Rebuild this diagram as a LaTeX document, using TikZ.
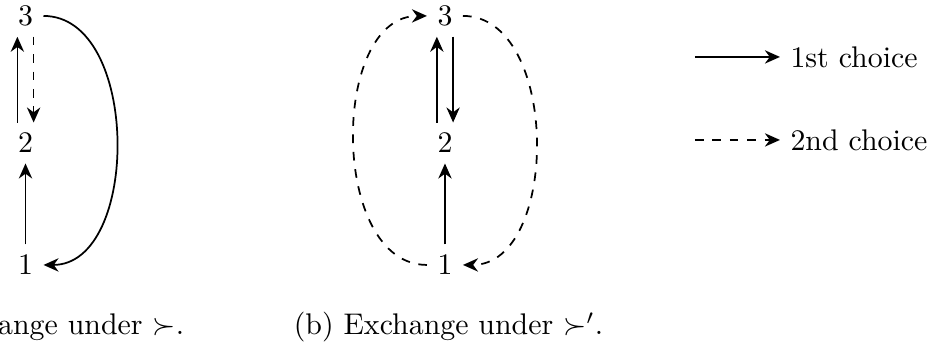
\RequirePackage{fix-cm}
\documentclass[tikz,border=0pt]{standalone}
\usetikzlibrary{arrows.meta}
\begin{document}
\begin{tikzpicture}[line width=0.6pt, >={Stealth[length=5.2pt,width=4.6pt]},
  every node/.style={font=\fontsize{10.3}{12.4}\selectfont},
  capt/.style={inner sep=0pt},
  firstch/.style={->}, secondch/.style={->, dashed}]
  \useasboundingbox (0,0) rectangle (11.320,4.181);
  \clip (0,0) rectangle (11.320,4.181);
  % (a)
  \node (a3) at (0.309,3.988) {3};
  \node (a2) at (0.309,2.448) {2};
  \node (a1) at (0.309,0.970) {1};
  \draw[firstch] ([xshift=-2.8pt]a2.north) -- ([xshift=-2.8pt]a3.south);
  \draw[secondch] ([xshift=2.8pt]a3.south) -- ([xshift=2.8pt]a2.north);
  \draw[firstch] (a1) -- (a2);
  \draw[firstch] (a3) to[out=0, in=0] (a1);
  \node[capt, anchor=base east] (capa) at (2.242,0.121) {(a) Exchange under $\succ$.};
  % (b)
  \node (b3) at (5.393,3.988) {3};
  \node (b2) at (5.393,2.448) {2};
  \node (b1) at (5.393,0.970) {1};
  \draw[firstch] ([xshift=-2.8pt]b2.north) -- ([xshift=-2.8pt]b3.south);
  \draw[firstch] ([xshift=2.8pt]b3.south) -- ([xshift=2.8pt]b2.north);
  \draw[firstch] (b1) -- (b2);
  \draw[secondch] (b1) to[out=180, in=180] (b3);
  \draw[secondch] (b3) to[out=0, in=0] (b1);
  \node[capt, anchor=base west] (capb) at (3.551,0.121) {(b) Exchange under $\succ'$.};
  % legend
  \coordinate (s1) at (8.423,3.491);
  \coordinate (s2) at (8.423,2.485);
  \node[anchor=west] (l1) at (9.453,3.491) {1st choice};
  \node[anchor=west] (l2) at (9.453,2.485) {2nd choice};
  \draw[firstch] (s1) -- (l1);
  \draw[secondch] (s2) -- (l2);
\end{tikzpicture}
\end{document}
